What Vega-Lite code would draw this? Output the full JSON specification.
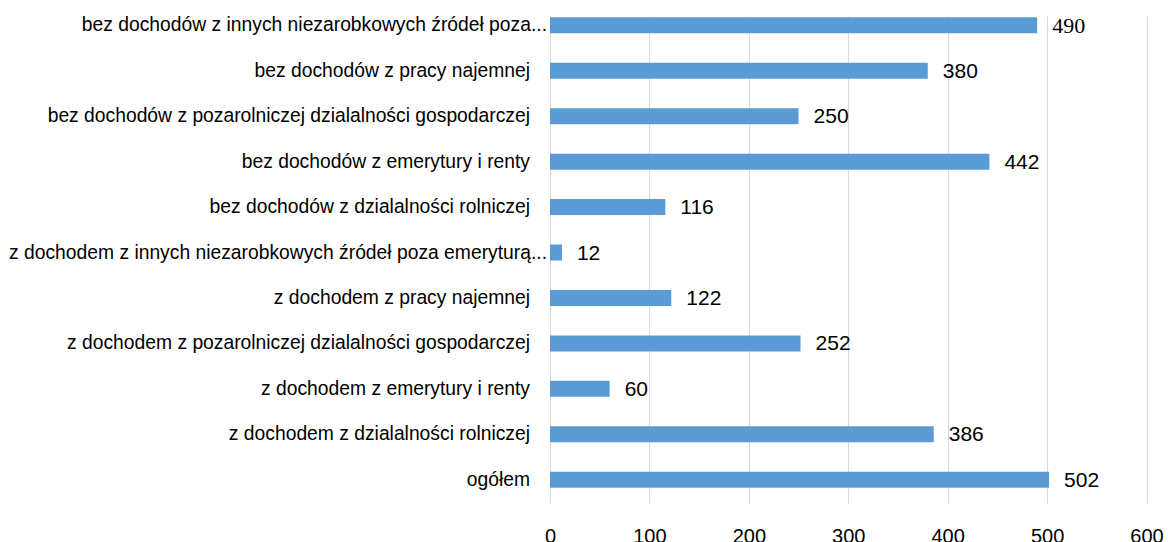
{
  "$schema": "https://vega.github.io/schema/vega-lite/v6.json",
  "width": 596.5,
  "height": 487,
  "autosize": {"type": "none"},
  "padding": {"left": 550, "top": 16, "right": 21.5, "bottom": 39},
  "background": "white",
  "config": {"view": {"stroke": null}, "font": "Liberation Sans"},
  "data": {"values": [
    {"cat": "bez dochodów z innych niezarobkowych źródeł poza...", "v": 490},
    {"cat": "bez dochodów z pracy najemnej", "v": 380},
    {"cat": "bez dochodów z pozarolniczej dzialalności gospodarczej", "v": 250},
    {"cat": "bez dochodów z emerytury i renty", "v": 442},
    {"cat": "bez dochodów z dzialalności rolniczej", "v": 116},
    {"cat": "z dochodem z innych niezarobkowych źródeł poza emeryturą...", "v": 12},
    {"cat": "z dochodem z pracy najemnej", "v": 122},
    {"cat": "z dochodem z pozarolniczej dzialalności gospodarczej", "v": 252},
    {"cat": "z dochodem z emerytury i renty", "v": 60},
    {"cat": "z dochodem z dzialalności rolniczej", "v": 386},
    {"cat": "ogółem", "v": 502}
  ]},
  "encoding": {
    "y": {
      "field": "cat", "type": "nominal", "sort": null,
      "scale": {"paddingInner": 0.648, "paddingOuter": 0.183, "align": 0.08},
      "axis": {"title": null, "ticks": false, "domain": false, "labels": false}
    },
    "x": {
      "field": "v", "type": "quantitative",
      "scale": {"domain": [0, 600], "nice": false},
      "axis": {
        "title": null, "values": [0, 100, 200, 300, 400, 500, 600],
        "ticks": false, "domain": false, "grid": true, "gridColor": "#d9d9d9",
        "gridWidth": 1, "labelPadding": 23, "labelFontSize": 20,
        "labelColor": "#000000", "labelFlush": false
      }
    }
  },
  "layer": [
    {"mark": {"type": "bar", "color": "#5B9BD5"}},
    {
      "transform": [{"filter": "indexof(datum.cat, '...') < 0"}],
      "mark": {"type": "text", "align": "right", "baseline": "middle", "dx": -20, "dy": 0, "fontSize": 19.3, "color": "#000000"},
      "encoding": {"x": {"datum": 0, "type": "quantitative"}, "text": {"field": "cat", "type": "nominal"}}
    },
    {
      "transform": [{"filter": "indexof(datum.cat, '...') >= 0"}],
      "mark": {"type": "text", "align": "right", "baseline": "middle", "dx": -3, "dy": 0, "fontSize": 19.3, "color": "#000000"},
      "encoding": {"x": {"datum": 0, "type": "quantitative"}, "text": {"field": "cat", "type": "nominal"}}
    },
    {
      "transform": [{"filter": "datum.cat !== 'bez dochodów z innych niezarobkowych źródeł poza...'"}],
      "mark": {"type": "text", "align": "left", "baseline": "middle", "dx": 15, "dy": 1, "fontSize": 21, "color": "#000000"},
      "encoding": {"text": {"field": "v", "type": "quantitative"}}
    },
    {
      "transform": [{"filter": "datum.cat === 'bez dochodów z innych niezarobkowych źródeł poza...'"}],
      "mark": {"type": "text", "align": "left", "baseline": "middle", "dx": 15, "dy": 1, "fontSize": 22, "font": "Liberation Serif", "color": "#000000"},
      "encoding": {"text": {"field": "v", "type": "quantitative"}}
    }
  ]
}
